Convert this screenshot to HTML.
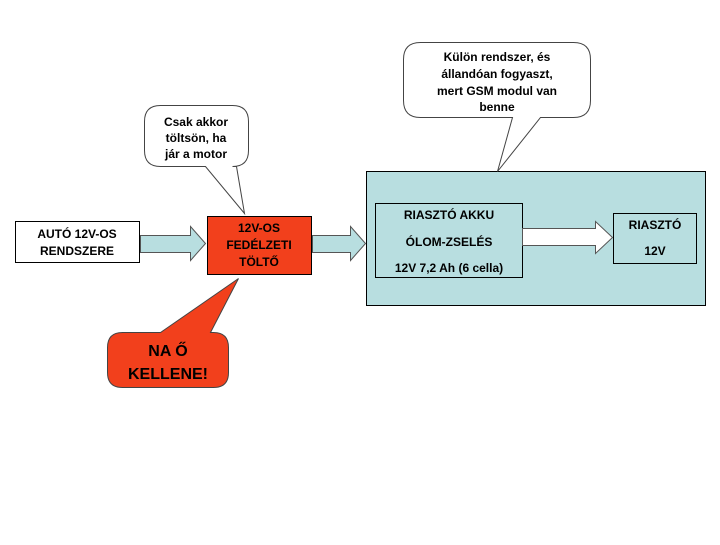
<!DOCTYPE html>
<html><head><meta charset="utf-8"><style>
body{margin:0;background:#fff;}
svg text{font-family:"Liberation Sans",sans-serif;font-weight:bold;font-size:12px;text-anchor:middle;}
</style></head><body>
<svg width="720" height="540" xmlns="http://www.w3.org/2000/svg">
<rect x="0" y="0" width="720" height="540" fill="#fff"/>
<!-- big teal box -->
<rect x="366.5" y="171.5" width="339" height="134" fill="#b8dee0" stroke="#000"/>
<!-- auto box -->
<rect x="15.5" y="221.5" width="124" height="41" fill="#fff" stroke="#000"/>
<text x="77" y="238">AUTÓ 12V-OS</text>
<text x="77" y="255">RENDSZERE</text>
<!-- arrow1 -->
<path d="M140.5 235.5 H190.5 V226.5 L205.5 243.5 L190.5 260.5 V252.5 H140.5 Z" fill="#b8dee0" stroke="#555"/>
<!-- red box -->
<rect x="207.5" y="216.5" width="104" height="58" fill="#f2401c" stroke="#000"/>
<text x="259" y="232">12V-OS</text>
<text x="259" y="249">FEDÉLZETI</text>
<text x="259" y="266">TÖLTŐ</text>
<!-- arrow2 -->
<path d="M312.5 235.5 H350.5 V226.5 L365.5 243.5 L350.5 260.5 V252.5 H312.5 Z" fill="#b8dee0" stroke="#555"/>
<!-- akku box -->
<rect x="375.5" y="203.5" width="147" height="74" fill="#b8dee0" stroke="#000"/>
<text x="449" y="219">RIASZTÓ AKKU</text>
<text x="449" y="246">ÓLOM-ZSELÉS</text>
<text x="449" y="272">12V 7,2 Ah (6 cella)</text>
<!-- arrow3 -->
<path d="M522.5 228.5 H595.5 V221.5 L612.5 237.5 L595.5 253.5 V245.5 H522.5 Z" fill="#fff" stroke="#555"/>
<!-- riaszto box -->
<rect x="613.5" y="213.5" width="83" height="50" fill="#b8dee0" stroke="#000"/>
<text x="655" y="229">RIASZTÓ</text>
<text x="655" y="255">12V</text>
<!-- callout 1 -->
<path d="M160.5 105.5 H232.5 Q248.5 105.5 248.5 121.5 V150.5 Q248.5 166.5 232.5 166.5 H236.5 L244.5 213.5 L205.5 166.5 H160.5 Q144.5 166.5 144.5 150.5 V121.5 Q144.5 105.5 160.5 105.5 Z" fill="#fff" stroke="#444"/>
<text x="196" y="126">Csak akkor</text>
<text x="196" y="142">töltsön, ha</text>
<text x="196" y="158">jár a motor</text>
<!-- callout 2 -->
<path d="M420.5 42.5 H573.5 Q590.5 42.5 590.5 59.5 V100.5 Q590.5 117.5 573.5 117.5 H540.5 L497.5 171.5 L512.5 117.5 H420.5 Q403.5 117.5 403.5 100.5 V59.5 Q403.5 42.5 420.5 42.5 Z" fill="#fff" stroke="#444"/>
<text x="497" y="61">Külön rendszer, és</text>
<text x="497" y="78">állandóan fogyaszt,</text>
<text x="497" y="95">mert GSM modul van</text>
<text x="497" y="111">benne</text>
<!-- red callout -->
<path d="M122.5 332.5 H160.5 L238.5 278.5 L210.5 332.5 H213.5 Q228.5 332.5 228.5 347.5 V372.5 Q228.5 387.5 213.5 387.5 H122.5 Q107.5 387.5 107.5 372.5 V347.5 Q107.5 332.5 122.5 332.5 Z" fill="#f2401c" stroke="#444"/>
<text x="168" y="356" style="font-size:16px">NA Ő</text>
<text x="168" y="379" style="font-size:16px">KELLENE!</text>
</svg>
</body></html>
